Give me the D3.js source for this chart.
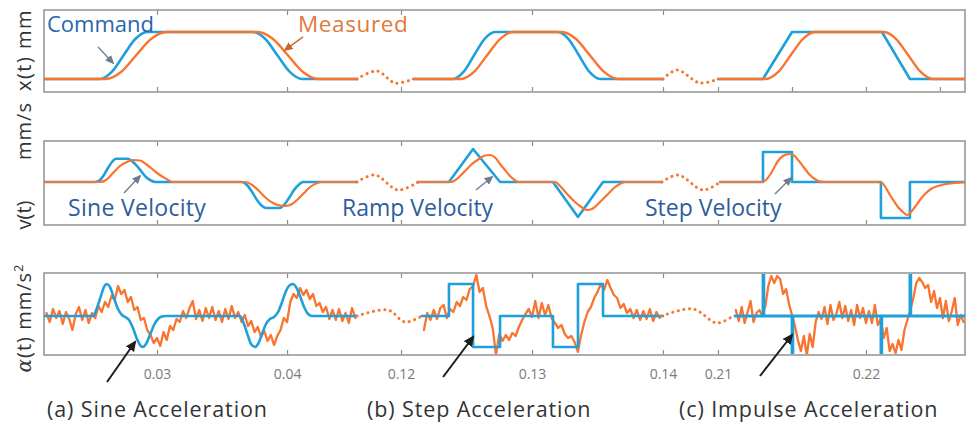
<!DOCTYPE html>
<html>
<head>
<meta charset="utf-8">
<script src="https://cdn.jsdelivr.net/npm/d3@7"></script>
<style>
  body { margin: 0; background: #fff; }
  svg { display: block; }
</style>
</head>
<body>
<svg id="chart" width="966" height="428"></svg>
<script>
// ---------- time axis (ms), three recording windows ----------
const timeWindows = [21.31, 45.38, 120, 140, 210, 226.76];
const ticksPos = [30, 40, 120, 130, 140, 210, 215, 220, 225];
const ticksVelAcc = [30, 40, 120, 130, 140, 210, 220];
const ticksTop = [30, 40, 120, 130, 140];
const tickLabels = [30, 40, 120, 130, 140, 210, 220];

// ---------- position x(t), mm ----------
const posCommandA = [[21.31,0],[25.62,0],[26.52,1.5],[27.42,5],[28.33,8.5],[29.23,10],[37.38,10],[38.33,8.5],[39.27,5],[40.21,1.5],[41.15,0],[45.38,0]];
const posCommandB = [[120.92,0],[123.97,0],[124.77,1.5],[125.57,5],[126.37,8.5],[127.18,10],[131.98,10],[132.79,8.5],[133.59,5],[134.39,1.5],[135.19,0],[140,0]];
const posCommandC = [[210,0],[213.04,0],[215.0,10],[221.08,10],[222.97,0],[226.76,0]];
const posMeasuredA = [[21.31,0],[26.08,0],[27.23,1.5],[28.38,5],[29.54,8.5],[30.69,10],[37.77,10],[38.92,8.5],[40.08,5],[41.23,1.5],[42.38,0],[45.38,0]];
const posMeasuredB = [[120.92,0],[124.58,0],[125.57,1.5],[126.56,5],[127.56,8.5],[128.55,10],[132.29,10],[133.36,8.5],[134.43,5],[135.50,1.5],[136.56,0],[140,0]];
const posMeasuredC = [[210,0],[213.24,0],[214.07,1.5],[214.90,5],[215.73,8.5],[216.55,10],[221.22,10],[222.04,8.5],[222.87,5],[223.70,1.5],[224.53,0],[226.76,0]];
const posGap1 = [[45.38,0],[79.3,1.7],[109.8,-0.85],[120.92,0]];
const posGap2 = [[140,0],[157.8,1.9],[187.1,-0.85],[210,0]];

// ---------- velocity v(t) ----------
const velCommandA = [[21.31,0],[25.23,0],[25.62,2],[25.92,7],[26.23,14],[26.54,20],[26.85,23.3],[27.77,23.3],[28.15,20],[28.46,16],[28.77,11],[29.15,5],[29.54,1.5],[29.85,0],[36.54,0],[36.92,-3],[37.31,-10],[37.69,-18],[38.08,-24],[38.38,-26],[39.38,-26],[39.77,-23],[40.15,-16],[40.54,-8],[40.92,-2.5],[41.23,0],[45.38,0]];
const velMeasuredA = [[21.31,0],[25.62,0],[26.08,2],[26.62,9],[27.15,16],[27.69,20],[28.15,22],[28.69,21.5],[29.15,18],[29.54,14],[30.0,9],[30.46,5],[30.85,2],[31.23,0],[36.77,0],[37.31,-3],[37.85,-9],[38.38,-16],[38.92,-21],[39.46,-23.5],[39.92,-24],[40.38,-22],[40.85,-17],[41.31,-11],[41.77,-5],[42.23,-1.5],[42.69,0],[45.38,0]];
const velCommandB = [[121.3,0],[123.66,0],[125.50,33],[127.56,0],[131.60,0],[133.51,-35],[135.42,0],[139.92,0]];
const velMeasuredB = [[121.3,0],[123.82,0],[124.35,4],[124.89,11],[125.42,18],[125.95,23],[126.41,26.5],[126.79,27],[127.18,24.5],[127.56,18],[127.94,12],[128.32,6],[128.63,2.5],[128.93,0],[131.76,0],[132.21,-5],[132.75,-13],[133.28,-20],[133.82,-25.5],[134.20,-28],[134.58,-27],[134.96,-23],[135.42,-17],[135.88,-11],[136.26,-6],[136.64,-2.5],[137.10,0],[139.92,0]];
const velCommandC = [[210.14,0],[213.04,30],[215.0,0],[221.01,-36],[222.97,0],[226.76,0]];
const velMeasuredC = [[210.14,0],[212.97,0],[213.24,2],[213.51,7],[213.78,14],[214.05,21],[214.39,26],[214.80,28],[215.14,26.5],[215.47,21],[215.81,14.5],[216.15,8],[216.49,3.5],[216.89,0.5],[217.23,0],[221.01,0],[221.35,-6],[221.62,-13],[221.89,-19],[222.16,-25],[222.50,-30],[222.77,-33],[223.04,-30],[223.31,-25],[223.65,-18],[223.99,-12],[224.39,-7],[224.86,-4],[225.41,-2],[226.01,-1],[226.76,0]];
const velGap1 = [[45.38,0],[75.9,7],[114.9,-8],[121.3,0]];
const velGap2 = [[139.92,0],[159.1,7],[190.9,-8],[210.14,0]];

// ---------- acceleration a(t) ----------
const accCommandA = [[21.31,0],[25.08,0],[25.38,8],[25.69,20],[25.92,29],[26.15,32],[26.38,29],[26.69,18],[27.0,7],[27.31,1],[27.62,-1.5],[27.85,-4],[28.15,-12],[28.46,-23],[28.69,-29],[28.92,-31],[29.15,-28],[29.46,-19],[29.77,-9],[30.08,-3],[30.38,-0.5],[30.62,0],[36.38,0],[36.69,-8],[37.0,-20],[37.23,-28],[37.54,-31],[37.77,-28],[38.08,-18],[38.38,-8],[38.69,-3],[39.0,-1],[39.31,4],[39.62,14],[39.92,25],[40.23,31],[40.46,32],[40.69,29],[41.0,20],[41.31,9],[41.62,2],[41.92,0],[45.38,0]];
const accCommandB = [[121.6,0],[123.66,32],[125.50,-31],[127.56,0],[131.60,-31],[133.51,32],[135.42,0],[140,0]];
const accCommandC = [[211.15,0],[213.04,60],[213.1,0],[215.0,-60],[215.06,0],[221.01,-60],[221.07,0],[222.97,60],[223.03,0],[226.76,0]];

// measured acceleration, uniformly sampled
const accSampleA = { start: 21.5, step: 0.25 };
const accMeasuredA = [3,-6,7,-2,5,-8,4,-3,-14,2,9,-4,6,-7,3,-2,10,4,14,9,20,16,30,22,26,14,19,6,9,-4,-2,-14,-19,-27,-22,-30,-16,-24,-10,-14,-3,-6,5,-2,8,15,-3,6,-5,8,-2,9,-4,5,-6,7,-3,10,-2,4,-6,1,-10,-5,-16,-11,-21,-15,-25,-19,-29,-20,-14,-2,-6,14,22,18,28,21,26,17,22,10,13,4,9,-3,6,-4,7,-5,3,-7,8,-2];
const accSampleB = { start: 121.75, step: 0.25 };
const accMeasuredB = [-14,3,-4,6,-3,8,11,-2,7,4,14,10,19,16,27,30,41,24,28,10,0,-12,-39,-18,-25,-19,-24,-17,-20,-11,-4,2,7,-1,15,-2,13,1,11,-2,-7,-12,-9,-18,-22,-20,-26,-36,-19,-6,4,9,18,24,32,26,36,28,21,18,8,12,3,7,-2,6,-4,5,-3,7,-5,4,-2];
const accSampleC = { start: 211.2, step: 0.2 };
const accMeasuredC = [6,-5,9,-7,4,15,-6,3,6,0,10,30,40,33,40,37,22,27,12,1,-10,-24,-35,-20,-39,-18,-31,-6,4,-3,9,-8,11,-4,2,14,-2,10,-5,6,-9,11,-2,8,-7,5,-7,11,-9,-3,-22,-12,-35,-28,-37,-24,-34,-14,-4,6,18,33,38,34,28,31,14,25,8,18,-2,15,-5,5,18,-9,1,-6];
const accGap1 = [[45.38,0],[97.9,6],[120.31,-6],[121.6,0]];
const accGap2 = [[139.92,0],[178.2,7],[208.7,-7],[211.01,0]];

// ---------- layout ----------
const svg = d3.select("#chart");
const left = 44, right = 965;
const blue = "#1fa0da", orange = "#f9742f";
const tickGrey = "#8c8c8c";

const x = d3.scaleLinear().domain(timeWindows).range([44, 357, 401, 663, 718, 966]);

const panels = {
  pos: { top: 10,  bottom: 92,  y: d3.scaleLinear().domain([-2.77, 14.68]).range([92, 10]) },
  vel: { top: 141, bottom: 225, y: d3.scaleLinear().domain([-43, 41]).range([225, 141]) },
  acc: { top: 273, bottom: 355, y: d3.scaleLinear().domain([-39, 43]).range([355, 273]) }
};

const defs = svg.append("defs");
Object.entries(panels).forEach(([key, p]) => {
  defs.append("clipPath").attr("id", "clip-" + key)
    .append("rect").attr("x", left).attr("y", p.top + 1)
    .attr("width", right - left).attr("height", p.bottom - p.top - 2);
});

function marker(id, color, size) {
  defs.append("marker").attr("id", id)
    .attr("viewBox", "0 0 10 10").attr("refX", 8).attr("refY", 5)
    .attr("markerUnits", "userSpaceOnUse")
    .attr("markerWidth", size).attr("markerHeight", size)
    .attr("orient", "auto")
    .append("path").attr("d", "M0,0.5L10,5L0,9.5z").attr("fill", color);
}
marker("arr-grey", "#6d7d8f", 9);
marker("arr-orange", "#c8642c", 9);
marker("arr-black", "#1e1e1e", 11);

// ---------- frames and ticks ----------
function drawFrame(key, bottomTicks, labelled) {
  const p = panels[key];
  const g = svg.append("g").attr("class", "frame-" + key);
  const axB = d3.axisBottom(x).tickValues(bottomTicks).tickSizeInner(-5).tickSizeOuter(0).tickPadding(14)
    .tickFormat(d => labelled && tickLabels.includes(d) ? (d / 1000).toFixed(2) : "");
  const gb = g.append("g").attr("transform", `translate(0,${p.bottom})`).call(axB);
  const axT = d3.axisTop(x).tickValues(ticksTop).tickSizeInner(-5).tickSizeOuter(0).tickFormat("");
  const gt = g.append("g").attr("transform", `translate(0,${p.top})`).call(axT);
  [gb, gt].forEach(a => {
    a.select(".domain").remove();
    a.selectAll(".tick line").attr("stroke", tickGrey).attr("stroke-width", 1.2);
    a.selectAll(".tick text").attr("fill", "#7a7a7a")
      .style("font-family", "'Open Sans', sans-serif").style("font-size", "14px");
  });
  g.append("rect").attr("x", left).attr("y", p.top)
    .attr("width", right - left).attr("height", p.bottom - p.top)
    .attr("fill", "none").attr("stroke", "#a4a4a4").attr("stroke-width", 1.8);
}
drawFrame("pos", ticksPos, false);
drawFrame("vel", ticksVelAcc, false);
drawFrame("acc", ticksVelAcc, true);

// ---------- traces ----------
function trace(key, data, curve, color, width, dotted) {
  const p = panels[key];
  const line = d3.line().x(d => x(d[0])).y(d => p.y(d[1])).curve(curve);
  const path = svg.append("path").datum(data)
    .attr("clip-path", `url(#clip-${key})`)
    .attr("d", line).attr("fill", "none")
    .attr("stroke", color).attr("stroke-width", width)
    .attr("stroke-linejoin", "round").attr("stroke-linecap", "round");
  if (dotted) path.attr("stroke-dasharray", "0.1 5.6").attr("stroke-width", 3);
}
function sampled(info, values) {
  return values.map((v, i) => [info.start + i * info.step, v]);
}

const smooth = d3.curveMonotoneX;
// position
trace("pos", posCommandA, smooth, blue, 2.6);
trace("pos", posCommandB, smooth, blue, 2.6);
trace("pos", posCommandC, d3.curveLinear, blue, 2.6);
trace("pos", posMeasuredA, smooth, orange, 2.4);
trace("pos", posMeasuredB, smooth, orange, 2.4);
trace("pos", posMeasuredC, smooth, orange, 2.4);
trace("pos", posGap1, d3.curveCatmullRom, orange, 3, true);
trace("pos", posGap2, d3.curveCatmullRom, orange, 3, true);
// velocity
trace("vel", velCommandA, smooth, blue, 2.6);
trace("vel", velCommandB, d3.curveLinear, blue, 2.6);
trace("vel", velCommandC, d3.curveStepAfter, blue, 2.6);
trace("vel", velMeasuredA, smooth, orange, 2.2);
trace("vel", velMeasuredB, smooth, orange, 2.2);
trace("vel", velMeasuredC, smooth, orange, 2.2);
trace("vel", velGap1, d3.curveCatmullRom, orange, 3, true);
trace("vel", velGap2, d3.curveCatmullRom, orange, 3, true);
// acceleration
trace("acc", sampled(accSampleA, accMeasuredA), d3.curveLinear, orange, 2.3);
trace("acc", sampled(accSampleB, accMeasuredB), d3.curveLinear, orange, 2.3);
trace("acc", sampled(accSampleC, accMeasuredC), d3.curveLinear, orange, 2.3);
trace("acc", accCommandA, smooth, blue, 2.6);
trace("acc", accCommandB, d3.curveStepAfter, blue, 2.6);
trace("acc", accCommandC, d3.curveStepAfter, blue, 2.8);
trace("acc", accGap1, d3.curveCatmullRom, orange, 3, true);
trace("acc", accGap2, d3.curveCatmullRom, orange, 3, true);

// ---------- axis titles ----------
const font = "'Open Sans', sans-serif";
function yTitle(cx, cy, size) {
  return svg.append("text").attr("transform", `translate(${cx},${cy}) rotate(-90)`)
    .attr("text-anchor", "middle").attr("fill", "#333")
    .style("font-family", font).style("font-size", size + "px");
}
yTitle(31, 50, 20).style("letter-spacing", "1.5px").text("x(t) mm");
yTitle(31, 215, 20).text("v(t)");
yTitle(31, 131, 20).style("letter-spacing", "1px").text("mm/s");
const at = yTitle(31, 318, 20).style("letter-spacing", "1px");
at.append("tspan").style("font-family", "'DejaVu Serif', serif").style("font-style", "italic").text("α");
at.append("tspan").text("(t) mm/s");
at.append("tspan").attr("dy", -8).style("font-size", "13px").text("2");

// ---------- annotations ----------
function label(tx, ty, text, color, size, spacing) {
  svg.append("text").attr("x", tx).attr("y", ty).attr("fill", color)
    .style("font-family", font).style("font-size", size + "px")
    .style("letter-spacing", (spacing || 0) + "px").text(text);
}
function arrow(key, tip, dx, dy, color, width, mark) {
  const p = panels[key];
  const xt = x(tip[0]), yt = p.y(tip[1]);
  svg.append("line").attr("x1", xt + dx).attr("y1", yt + dy).attr("x2", xt).attr("y2", yt)
    .attr("stroke", color).attr("stroke-width", width).attr("marker-end", `url(#${mark})`);
}

label(47, 32, "Command", "#2766ad", 22);
label(298, 32, "Measured", "#de7a3c", 22.5, 0.6);
arrow("pos", [26.62, 3.4], -15, -16, "#6d7d8f", 1.3, "arr-grey");
arrow("pos", [39.85, 6.2], 18, -13, "#c8642c", 1.3, "arr-orange");

label(68, 216, "Sine Velocity", "#2d5d9c", 23, 0.3);
label(342, 216, "Ramp Velocity", "#2d5d9c", 23);
label(645, 216, "Step Velocity", "#2d5d9c", 23);
arrow("vel", [28.69, 6], -16, 17, "#6d7d8f", 1.3, "arr-grey");
arrow("vel", [126.95, 5], -16, 13, "#6d7d8f", 1.3, "arr-grey");
arrow("vel", [214.93, 4], -16, 16, "#6d7d8f", 1.3, "arr-grey");

arrow("acc", [28.31, -26], -28, 40, "#1e1e1e", 2, "arr-black");
arrow("acc", [125.50, -21], -30, 40, "#1e1e1e", 2, "arr-black");
arrow("acc", [215.0, -19], -32, 41, "#1e1e1e", 2, "arr-black");

label(47, 417, "(a) Sine Acceleration", "#333", 21.5, 0.9);
label(367, 417, "(b) Step Acceleration", "#333", 21.5, 0.9);
label(679, 417, "(c) Impulse Acceleration", "#333", 21.5, 0.9);
</script>
</body>
</html>
